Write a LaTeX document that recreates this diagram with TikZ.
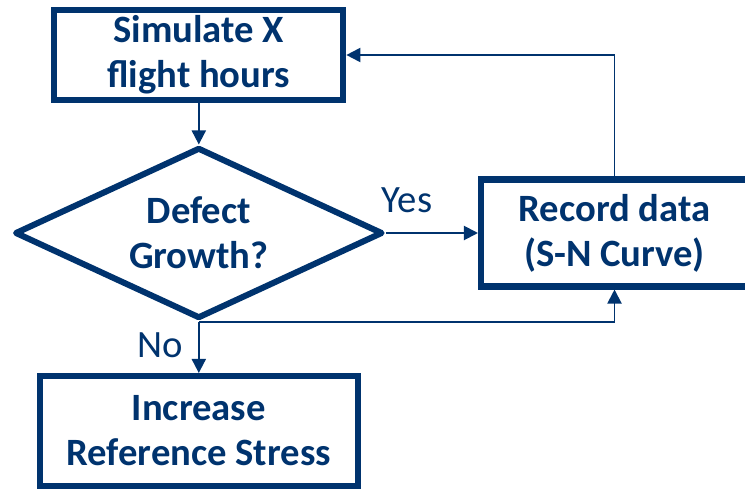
\documentclass[tikz,border=0pt]{standalone}
\usepackage{fontspec}
\setmainfont{Carlito}
\usetikzlibrary{shapes.geometric,arrows.meta}
\definecolor{flowNavy}{RGB}{0,51,110}

\begin{document}
\begin{tikzpicture}[
  every node/.style={text=flowNavy, font=\fontsize{27.5}{32}\selectfont},
  procbox/.style={draw=flowNavy, line width=4.3pt, align=center, inner sep=0pt,
    font=\bfseries\fontsize{27.5}{32}\selectfont},
  decision/.style={diamond, aspect=2.14, draw=flowNavy, line width=4.3pt, line join=round,
    align=center, inner sep=0pt, minimum width=9.2cm, minimum height=4.275cm,
    font=\bfseries\fontsize{27.5}{32}\selectfont},
  flowline/.style={draw=flowNavy, line width=1.4pt,
    -{Triangle[length=10pt,width=10pt]}}]
\useasboundingbox (0,0) rectangle (18.625,12.225);

% Boxes
\node[procbox, minimum width=7.225cm, minimum height=2.25cm] (sim) at (4.97,10.85)
    {Simulate X\\flight hours};
\node[decision] (dec) at (4.97,6.4) {Defect\\Growth?};
\node[procbox, minimum width=6.675cm, minimum height=2.675cm] (rec) at (15.3625,6.4)
    {Record data\\(S-N Curve)};
\node[procbox, minimum width=7.95cm, minimum height=2.75cm] (inc) at (4.97,1.45)
    {Increase\\Reference Stress};

% Labels
\node (yeslbl) at (10.175,7.225) {Yes};
\node (nolbl) at (4.0,3.6) {No};

% Connectors
\draw[flowline] (sim.south) -- (dec.north);
\draw[flowline] (dec.east) -- (rec.west);
\draw[flowline] (dec.south) -- (inc.north);
\draw[flowline] (dec.south) -| (rec.south);
\draw[flowline] (rec.north) |- (sim.east);

\end{tikzpicture}
\end{document}
